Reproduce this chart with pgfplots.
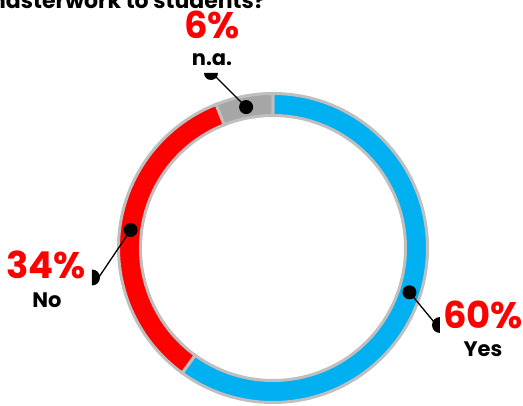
\documentclass[border=0pt]{standalone}
\usepackage{pgfplots}
\pgfplotsset{compat=1.18}
\usepackage{pgfplotstable}
\usepackage{fontspec}
\setmainfont{Poppins}

\definecolor{cyes}{HTML}{00B0F0}
\definecolor{cno}{HTML}{FF0000}
\definecolor{cna}{HTML}{A6A6A6}
\definecolor{rim}{HTML}{BFBFBF}

% share of answers, clockwise from 12 o'clock
\pgfplotstableread{
label value color
Yes   60    cyes
No    34    cno
n.a.  6     cna
}\donutdata

\begin{document}
\begin{tikzpicture}
\clip (0,0) rectangle (523pt,405pt);
\begin{axis}[
    x=1pt, y=1pt,
    xmin=0, xmax=523, ymin=0, ymax=405,
    scale only axis,
    hide axis,
    clip=false,
]
    % ring segments
    \pgfplotstablegetrowsof{\donutdata}
    \pgfmathtruncatemacro{\lastrow}{\pgfplotsretval-1}
    \xdef\angA{90}
    \pgfplotsforeachungrouped \i in {0,...,\lastrow}{
        \pgfplotstablegetelem{\i}{value}\of{\donutdata}\let\v\pgfplotsretval
        \pgfplotstablegetelem{\i}{color}\of{\donutdata}\let\c\pgfplotsretval
        \pgfmathsetmacro{\angB}{\angA-3.6*\v}
        \edef\seg{\noexpand\filldraw[fill=\c, draw=rim, line width=3pt]
            (axis cs:273,157) ++(\angA:154.5pt)
            arc[start angle=\angA, end angle=\angB, radius=154.5pt]
            -- ++(\angB:-22pt)
            arc[start angle=\angB, end angle=\angA, radius=132.5pt] -- cycle;}
        \seg
        \xdef\angA{\angB}
    }
    % dots at the middle of each segment
    \xdef\angA{90}
    \pgfplotsforeachungrouped \i in {0,...,\lastrow}{
        \pgfplotstablegetelem{\i}{value}\of{\donutdata}\let\v\pgfplotsretval
        \pgfmathsetmacro{\angM}{\angA-1.8*\v}
        \pgfmathsetmacro{\angB}{\angA-3.6*\v}
        \edef\dot{\noexpand\fill[black] (axis cs:273,157) ++(\angM:143.5pt) circle[radius=7pt];}
        \dot
        \xdef\angA{\angB}
    }

    % leader lines (Yes, No, n.a.)
    \draw[line width=1.3pt] (axis cs:273,157) ++(-18:143.5pt) -- (axis cs:434,83);
    \fill (axis cs:440,88) arc[start angle=90, end angle=270, radius=8pt] -- cycle;
    \draw[line width=1.3pt] (axis cs:273,157) ++(172.8:143.5pt) -- (axis cs:99,128);
    \fill (axis cs:92,119.5) arc[start angle=-90, end angle=90, radius=8pt] -- cycle;
    \draw[line width=1.3pt] (axis cs:273,157) ++(100.8:143.5pt) -- (axis cs:216,328);
    \fill (axis cs:204,332) arc[start angle=180, end angle=360, radius=7pt] -- cycle;

    % labels
    \node[text=red, font=\bfseries\fontsize{37}{40}\selectfont] at (axis cs:212,380) {6\%};
    \node[font=\bfseries\fontsize{21}{24}\selectfont] at (axis cs:212,345) {n.a.};
    \node[text=red, font=\bfseries\fontsize{37}{40}\selectfont] at (axis cs:46,140) {34\%};
    \node[font=\bfseries\fontsize{21}{24}\selectfont] at (axis cs:47,105) {No};
    \node[text=red, font=\bfseries\fontsize{37}{40}\selectfont] at (axis cs:483,90) {60\%};
    \node[font=\bfseries\fontsize{21}{24}\selectfont] at (axis cs:483,56) {Yes};

    % title, cut off at the top edge
    \node[anchor=base east, inner sep=0pt, font=\bfseries\fontsize{22}{25}\selectfont]
        at (axis cs:266,396) {Did you transfer masterwork to students?};
\end{axis}
\end{tikzpicture}
\end{document}
